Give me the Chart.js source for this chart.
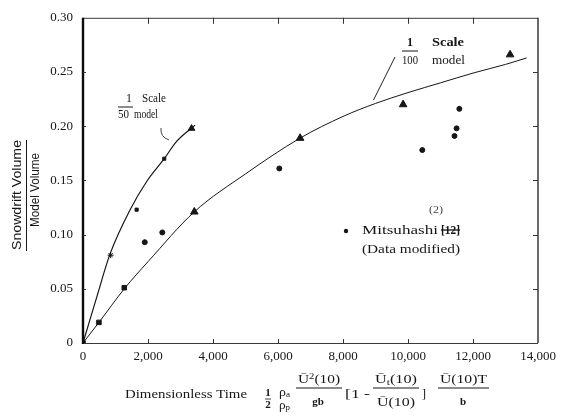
<!DOCTYPE html>
<html><head><meta charset="utf-8">
<script src="https://cdn.jsdelivr.net/npm/chart.js@4.4.0/dist/chart.umd.min.js"></script>
<style>html,body{margin:0;padding:0;background:#fff;overflow:hidden}#wrap{width:563px;height:416px;position:relative}</style>
</head><body><div id="wrap"><canvas id="c" width="563" height="416"></canvas></div>
<script>
// ---- tick values & labels ----
const xTickValues = [0, 2000, 4000, 6000, 8000, 10000, 12000, 14000];
const xTickLabels = ['0', '2,000', '4,000', '6,000', '8,000', '10,000', '12,000', '14,000'];
const yTickValues = [0, 0.05, 0.10, 0.15, 0.20, 0.25, 0.30];
const yTickLabels = ['0', '0.05', '0.10', '0.15', '0.20', '0.25', '0.30'];

// ---- 1/100 scale model curve ----
const curve100X = [0, 490, 1270, 2000, 3425, 5000, 6680, 8000, 9000, 10000, 11000, 12000, 13000, 13650];
const curve100Y = [0, 0.019, 0.050, 0.075, 0.121, 0.156, 0.189, 0.209, 0.221, 0.231, 0.240, 0.249, 0.257, 0.263];

// ---- 1/50 scale model curve ----
const curve50X = [0, 60, 400, 830, 1450, 1960, 2500, 2880, 3450];
const curve50Y = [0, 0.006, 0.040, 0.082, 0.123, 0.149, 0.170, 0.186, 0.201];

// ---- 1/100 model data marks ----
const sq100X = [0, 490, 1270];
const sq100Y = [0, 0.019, 0.051];
const tri100X = [3425, 6680, 9850, 13140];
const tri100Y = [0.121, 0.189, 0.220, 0.266];

// ---- 1/50 model data marks ----
const star50X = [850];
const star50Y = [0.081];
const sq50X = [1650, 2500];
const sq50Y = [0.123, 0.170];
const tri50X = [3340];
const tri50Y = [0.198];

// ---- Mitsuhashi (data modified) ----
const mitsuX = [1900, 2440, 6040, 10440, 11430, 11495, 11580];
const mitsuY = [0.093, 0.102, 0.161, 0.178, 0.191, 0.198, 0.216];

const pts = (xs, ys) => xs.map((x, i) => ({x: x, y: ys[i]}));
const INK = '#161616';

function drawScaled(ctx, text, left, right, cy, font, color) {
  ctx.save();
  ctx.font = font; ctx.fillStyle = color || INK;
  ctx.textBaseline = 'middle'; ctx.textAlign = 'left';
  const w = ctx.measureText(text).width;
  ctx.translate(left, cy); ctx.scale((right - left) / w, 1);
  ctx.fillText(text, 0, 0);
  ctx.restore();
}
function drawCentered(ctx, text, cx, cy, font, color) {
  ctx.save();
  ctx.font = font; ctx.fillStyle = color || INK;
  ctx.textBaseline = 'middle'; ctx.textAlign = 'center';
  ctx.fillText(text, cx, cy);
  ctx.restore();
}
function drawRich(ctx, parts, left, right, cy) {
  ctx.save();
  ctx.fillStyle = INK; ctx.textBaseline = 'middle'; ctx.textAlign = 'left';
  let total = 0;
  parts.forEach(p => { ctx.font = p.f; p.w = ctx.measureText(p.t).width; total += p.w; });
  ctx.translate(left, cy); ctx.scale((right - left) / total, 1);
  let x = 0;
  parts.forEach(p => { ctx.font = p.f; ctx.fillText(p.t, x, p.dy || 0); x += p.w; });
  ctx.restore();
}
function hline(ctx, x1, x2, y, w) {
  ctx.save(); ctx.strokeStyle = INK; ctx.lineWidth = w || 1;
  ctx.beginPath(); ctx.moveTo(x1, y); ctx.lineTo(x2, y); ctx.stroke(); ctx.restore();
}

const framePlugin = {
  id: 'frame',
  afterDraw(chart) {
    const ctx = chart.ctx, a = chart.chartArea;
    const xs = chart.scales.x, ys = chart.scales.y;
    ctx.save();
    // borders
    ctx.strokeStyle = '#3a3a3a'; ctx.lineWidth = 1;
    ctx.beginPath(); ctx.moveTo(a.left, a.top + 0.5); ctx.lineTo(a.right, a.top + 0.5); ctx.stroke();
    ctx.beginPath(); ctx.moveTo(a.left, a.bottom + 0.5); ctx.lineTo(a.right, a.bottom + 0.5); ctx.stroke();
    ctx.lineWidth = 1.5;
    ctx.beginPath(); ctx.moveTo(a.right, a.top); ctx.lineTo(a.right, a.bottom); ctx.stroke();
    ctx.strokeStyle = '#0c0c0c'; ctx.lineWidth = 2.4;
    ctx.beginPath(); ctx.moveTo(a.left, a.top); ctx.lineTo(a.left, a.bottom + 1); ctx.stroke();
    // inward ticks
    ctx.strokeStyle = '#333'; ctx.lineWidth = 1;
    xTickValues.forEach(v => {
      const px = Math.round(xs.getPixelForValue(v)) + 0.5;
      if (v > 0 && v < 14000) {
        ctx.beginPath(); ctx.moveTo(px, a.top); ctx.lineTo(px, a.top + 6); ctx.stroke();
        ctx.beginPath(); ctx.moveTo(px, a.bottom); ctx.lineTo(px, a.bottom - 4); ctx.stroke();
      }
    });
    yTickValues.forEach(v => {
      const py = Math.round(ys.getPixelForValue(v)) + 0.5;
      if (v > 0 && v < 0.3) {
        ctx.beginPath(); ctx.moveTo(a.right, py); ctx.lineTo(a.right - 5, py); ctx.stroke();
        ctx.beginPath(); ctx.moveTo(a.left, py); ctx.lineTo(a.left + 3, py); ctx.stroke();
      }
    });
    ctx.restore();

    // ---- Y axis title (fraction, rotated) ----
    ctx.save();
    ctx.translate(17, 195); ctx.rotate(-Math.PI / 2);
    drawScaled(ctx, 'Snowdrift Volume', -55, 55, 0, '13px "Liberation Sans"');
    ctx.restore();
    ctx.save();
    ctx.strokeStyle = INK; ctx.lineWidth = 1;
    ctx.beginPath(); ctx.moveTo(26.5, 140); ctx.lineTo(26.5, 251); ctx.stroke();
    ctx.restore();
    ctx.save();
    ctx.translate(35, 190); ctx.rotate(-Math.PI / 2);
    drawScaled(ctx, 'Model Volume', -37, 37, 0, '13px "Liberation Sans"');
    ctx.restore();

    // ---- X axis title ----
    const S = '"Liberation Serif"';
    drawScaled(ctx, 'Dimensionless Time', 125, 247, 395, '13px ' + S);
    drawCentered(ctx, '1', 268, 393, 'bold 11px ' + S);
    hline(ctx, 265, 271, 399, 0.8);
    drawCentered(ctx, '2', 268, 405, 'bold 11px ' + S);
    drawRich(ctx, [{t: 'ρ', f: '12px ' + S}, {t: 'a', f: '8px ' + S, dy: 2}], 279, 290, 393);
    drawRich(ctx, [{t: 'ρ', f: '12px ' + S}, {t: 'p', f: '8px ' + S, dy: 2}], 279, 290, 406);
    drawRich(ctx, [{t: 'Ū', f: '13px ' + S}, {t: '2', f: '9px ' + S, dy: -3}, {t: '(10)', f: '13px ' + S}], 298, 340, 380);
    hline(ctx, 296, 342, 388, 1);
    drawCentered(ctx, 'gb', 318, 402, 'bold 11px ' + S);
    drawScaled(ctx, '[1 -', 345, 370, 395, '13px ' + S);
    drawRich(ctx, [{t: 'Ū', f: '13px ' + S}, {t: 't', f: '9px ' + S, dy: 3}, {t: '(10)', f: '13px ' + S}], 375, 417, 380);
    hline(ctx, 373, 419, 388, 1);
    drawScaled(ctx, 'Ū(10)', 377, 415, 403, '13px ' + S);
    drawCentered(ctx, ']', 424, 395, '13px ' + S);
    drawScaled(ctx, 'Ū(10)T', 440, 487, 380, '13px ' + S);
    hline(ctx, 438, 489, 388, 1);
    drawCentered(ctx, 'b', 463, 402, 'bold 11px ' + S);

    // ---- 1/50 model label ----
    drawCentered(ctx, '1', 129, 99, '12px ' + S);
    hline(ctx, 118, 133, 107, 1);
    drawScaled(ctx, '50', 118, 129, 115, '12px ' + S);
    drawScaled(ctx, 'Scale', 142, 166, 99, '12px ' + S);
    drawScaled(ctx, 'model', 134, 158, 115, '12px ' + S);
    ctx.save(); ctx.strokeStyle = '#444'; ctx.lineWidth = 1;
    ctx.beginPath(); ctx.moveTo(161, 128); ctx.quadraticCurveTo(160, 137, 169, 140); ctx.stroke(); ctx.restore();

    // ---- 1/100 model label ----
    drawCentered(ctx, '1', 410, 43, 'bold 12px ' + S);
    hline(ctx, 402, 418, 51, 1);
    drawScaled(ctx, '100', 402, 418, 61, '12px ' + S);
    drawScaled(ctx, 'Scale', 432, 464, 43, 'bold 12px ' + S);
    drawScaled(ctx, 'model', 432, 465, 61, '12px ' + S);
    ctx.save(); ctx.strokeStyle = '#222'; ctx.lineWidth = 1;
    ctx.beginPath(); ctx.moveTo(395, 57); ctx.lineTo(373.5, 100); ctx.stroke(); ctx.restore();

    // ---- Mitsuhashi legend ----
    drawScaled(ctx, '(2)', 429, 443, 210, '10px ' + S, '#444');
    ctx.save(); ctx.fillStyle = INK; ctx.beginPath(); ctx.arc(346, 231, 2.2, 0, Math.PI * 2); ctx.fill(); ctx.restore();
    drawScaled(ctx, 'Mitsuhashi', 362, 438, 231, '13px ' + S);
    drawScaled(ctx, '[12]', 441, 460, 231, 'bold 13px ' + S);
    hline(ctx, 441, 460, 230, 1.3);
    drawScaled(ctx, '(Data modified)', 362, 460, 250, '13px ' + S);
  }
};

const lineDs = (data, w) => ({
  data: data, showLine: true, pointRadius: 0, borderColor: INK, borderWidth: w,
  cubicInterpolationMode: 'monotone', fill: false, order: 5
});
const markDs = (data, style, r) => ({
  data: data, showLine: false, pointStyle: style, pointRadius: r,
  backgroundColor: INK, borderColor: INK, borderWidth: 1, order: 1
});

new Chart(document.getElementById('c'), {
  type: 'scatter',
  data: {
    datasets: [
      lineDs(pts(curve100X, curve100Y), 1),
      lineDs(pts(curve50X, curve50Y), 1.2),
      markDs(pts(sq100X, sq100Y), 'rect', 3.2),
      markDs(pts(tri100X, tri100Y), 'triangle', 4.4),
      markDs(pts(star50X, star50Y), 'star', 3),
      markDs(pts(sq50X, sq50Y), 'rect', 2.2),
      markDs(pts(tri50X, tri50Y), 'triangle', 3.8),
      markDs(pts(mitsuX, mitsuY), 'circle', 2.5)
    ]
  },
  options: {
    responsive: false, animation: false, devicePixelRatio: 1,
    layout: {padding: {left: 0, right: 25, top: 15, bottom: 0}},
    plugins: {legend: {display: false}, tooltip: {enabled: false}},
    scales: {
      x: {
        type: 'linear', min: 0, max: 14000,
        afterBuildTicks: s => { s.ticks = xTickValues.map(v => ({value: v})); },
        afterFit: s => { s.height = 73; },
        grid: {display: false, drawTicks: false}, border: {display: false},
        ticks: {
          padding: 6, color: INK, maxRotation: 0, autoSkip: false,
          font: {family: 'Liberation Serif', size: 13},
          callback: v => xTickLabels[xTickValues.indexOf(v)]
        }
      },
      y: {
        type: 'linear', min: 0, max: 0.30,
        afterBuildTicks: s => { s.ticks = yTickValues.map(v => ({value: v})); },
        afterFit: s => { s.width = 83; },
        grid: {display: false, drawTicks: false}, border: {display: false},
        ticks: {
          padding: 10, color: INK, autoSkip: false,
          font: {family: 'Liberation Serif', size: 13},
          callback: (v, i) => yTickLabels[i]
        }
      }
    }
  },
  plugins: [framePlugin]
});
</script>
</body></html>
